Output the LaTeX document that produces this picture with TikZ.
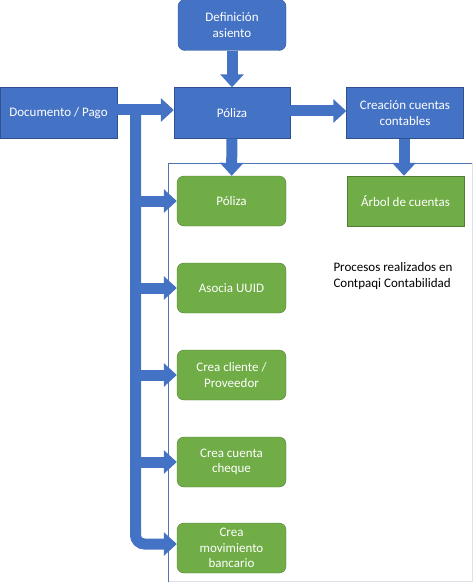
\documentclass[tikz,border=0pt]{standalone}
\usepackage{fontspec}
\setmainfont{Carlito}
\usetikzlibrary{arrows.meta}

\definecolor{azul}{HTML}{4472C4}
\definecolor{azulborde}{HTML}{2F528F}
\definecolor{verde}{HTML}{70AD47}
\definecolor{verdeborde}{HTML}{507E32}
\definecolor{grismarco}{HTML}{DCE1EA}

\tikzset{
  bluebox/.style={draw=azulborde,fill=azul,text=white,align=center,minimum height=50pt,inner sep=2pt},
  greenbox/.style={draw=verdeborde,fill=verde,text=white,align=center,minimum width=109pt,minimum height=50pt,rounded corners=7pt,inner sep=2pt},
  blockarrow/.style={draw=azul,line width=11pt,-{Triangle[width=23pt,length=13pt]}},
}

\begin{document}
\begin{tikzpicture}[x=1pt,y=-1pt,font=\fontsize{13}{15.5}\selectfont]
                \useasboundingbox (0,0) rectangle (474,583);
                % marco de Contpaqi
                \draw[grismarco,line width=1.2pt] (168,581.5) -- (472.5,581.5) -- (472.5,163);
                \draw[azul!80!gray,line width=0.8pt] (168,582) -- (168,163) -- (472,163);
                \node[align=left] (procesos) at (393,276) {Procesos realizados en\\Contpaqi Contabilidad};
                \node[bluebox,rounded corners=7pt,minimum width=108pt,minimum height=51pt] (defin) at (232,25) {Definición\\asiento};
                \node[bluebox,minimum width=117pt,minimum height=51pt] (docu) at (58.5,113) {Documento / Pago};
                \node[bluebox,minimum width=116pt,minimum height=51pt] (poliza) at (232,113) {Póliza};
                \node[bluebox,minimum width=117pt,minimum height=51pt] (creacion) at (405,113) {Creación cuentas\\contables};
                \node[greenbox] (gpoliza) at (231.5,201) {Póliza};
                \node[greenbox,rounded corners=0pt,minimum width=117pt] (arbol) at (405.5,201) {Árbol de cuentas};
                \node[greenbox] (uuid) at (231.5,288) {Asocia UUID};
                \node[greenbox] (cliente) at (231.5,375) {Crea cliente /\\Proveedor};
                \node[greenbox] (cheque) at (231.5,462) {Crea cuenta\\cheque};
                \node[greenbox] (movim) at (231.5,548) {Crea\\movimiento\\bancario};
                \coordinate (split) at (135.5,110);
                \draw[blockarrow] (defin) -- (poliza);
                \draw[blockarrow] (docu.east |- split) -- (poliza.west |- split);
                \draw[blockarrow] (poliza.east |- 0,111) -- (creacion.west |- 0,111);
                \draw[blockarrow] (poliza) -- (gpoliza);
                \draw[blockarrow] (creacion.south -| 404,0) -- (arbol.north -| 404,0);
                \draw[blockarrow,rounded corners=9pt] (split) |- ([yshift=4pt]movim.west);
                \draw[blockarrow] (split |- gpoliza.west) -- (gpoliza.west);
                \draw[blockarrow] (split |- uuid.west) -- (uuid.west);
                \draw[blockarrow] (split |- cliente.west) -- (cliente.west);
                \draw[blockarrow] (split |- cheque.west) -- (cheque.west);
            \end{tikzpicture}
\end{document}
